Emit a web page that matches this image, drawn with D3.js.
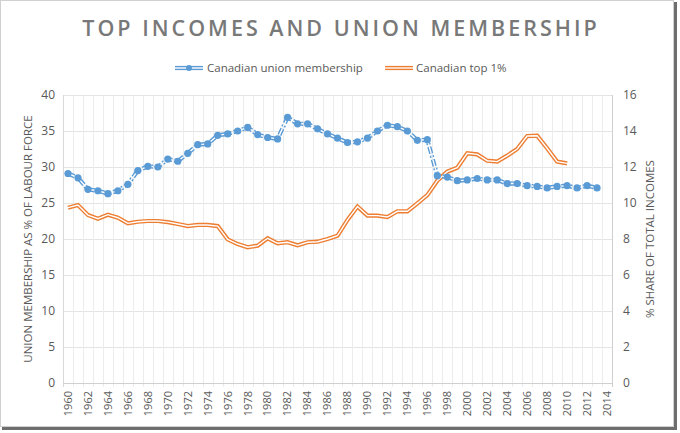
<!DOCTYPE html>
<html>
<head>
<meta charset="utf-8">
<script src="https://cdn.jsdelivr.net/npm/d3@7"></script>
<style>
  body { margin: 0; background: #fff; }
  svg { display: block; }
</style>
</head>
<body>
<div id="chart"></div>
<script>
const W = 680, H = 433;
const marginLeft = 63, marginRight = 68, marginTop = 95, marginBottom = 50;

// data
const years = d3.range(1960, 2015).map(String);
const xTicks = years.filter((d, i) => i % 2 === 0);
const unionYears = d3.range(1960, 2014).map(String);
const unionValues = [29.1, 28.5, 26.9, 26.7, 26.3, 26.7, 27.6, 29.5, 30.1, 30.0,
  31.1, 30.8, 31.9, 33.1, 33.2, 34.4, 34.6, 35.0, 35.5, 34.5,
  34.1, 33.9, 36.9, 36.0, 36.0, 35.3, 34.6, 34.0, 33.4, 33.5,
  34.0, 35.0, 35.8, 35.6, 35.0, 33.7, 33.8, 28.8, 28.6, 28.1,
  28.2, 28.4, 28.2, 28.2, 27.7, 27.7, 27.4, 27.3, 27.1, 27.3,
  27.4, 27.1, 27.4, 27.1];
const topYears = d3.range(1960, 2011).map(String);
const topValues = [9.74, 9.89, 9.33, 9.13, 9.35, 9.18, 8.87, 8.96, 9.0, 9.0,
  8.94, 8.83, 8.72, 8.78, 8.78, 8.72, 7.98, 7.72, 7.54, 7.63,
  8.04, 7.76, 7.82, 7.65, 7.82, 7.85, 8.0, 8.18, 9.06, 9.8,
  9.3, 9.3, 9.22, 9.54, 9.54, 9.98, 10.44, 11.24, 11.74, 11.96,
  12.76, 12.7, 12.35, 12.3, 12.63, 13.0, 13.72, 13.74, 13.04, 12.3,
  12.2];
const leftTicks = d3.range(0, 41, 5);
const rightTicks = d3.range(0, 17, 2);

const blue = "#5b9bd5", orange = "#ed7d31", textColor = "#595959";
const font = "'Open Sans', sans-serif";

const svg = d3.select("#chart").append("svg")
    .attr("width", W)
    .attr("height", H);

// frame with shadow
svg.append("rect").attr("x", 0).attr("y", 0).attr("width", W).attr("height", H).attr("fill", "#fff");
svg.append("rect").attr("x", 674).attr("y", 2).attr("width", 3).attr("height", 428).attr("fill", "#6e6e6e");
svg.append("rect").attr("x", 2).attr("y", 427).attr("width", 675).attr("height", 3).attr("fill", "#6e6e6e");
svg.append("rect").attr("x", 0.5).attr("y", 0.5).attr("width", 673).attr("height", 426)
    .attr("fill", "none").attr("stroke", "#d0d0d0");

const x = d3.scaleBand()
    .domain(years)
    .range([marginLeft, W - marginRight]);
const cx = d => x(d) + x.bandwidth() / 2;

const yLeft = d3.scaleLinear().domain([0, 40]).range([H - marginBottom, marginTop]);
const yRight = d3.scaleLinear().domain([0, 16]).range([H - marginBottom, marginTop]);

// gridlines
svg.append("g")
    .selectAll("line")
    .data(leftTicks)
    .join("line")
    .attr("x1", marginLeft).attr("x2", W - marginRight)
    .attr("y1", d => Math.round(yLeft(d)) + 0.5).attr("y2", d => Math.round(yLeft(d)) + 0.5)
    .attr("stroke", "#e4e4e4");

svg.append("g")
    .selectAll("line")
    .data(years.slice(1))
    .join("line")
    .attr("x1", d => Math.round(x(d)) + 0.5).attr("x2", d => Math.round(x(d)) + 0.5)
    .attr("y1", marginTop).attr("y2", H - marginBottom + 4)
    .attr("stroke", "#ececec");

// axis lines
svg.append("line")
    .attr("x1", marginLeft + 0.5).attr("x2", marginLeft + 0.5)
    .attr("y1", marginTop).attr("y2", H - marginBottom + 4)
    .attr("stroke", "#d9d9d9");
svg.append("line")
    .attr("x1", W - marginRight + 0.5).attr("x2", W - marginRight + 0.5)
    .attr("y1", marginTop).attr("y2", H - marginBottom + 4)
    .attr("stroke", "#d0d0d0");
svg.append("line")
    .attr("x1", marginLeft).attr("x2", W - marginRight)
    .attr("y1", H - marginBottom + 0.5).attr("y2", H - marginBottom + 0.5)
    .attr("stroke", "#d0d0d0");

// left axis
const gLeft = svg.append("g")
    .attr("transform", `translate(${marginLeft - 8},0)`)
    .call(d3.axisLeft(yLeft).tickValues(leftTicks).tickSize(0).tickPadding(0));
gLeft.select(".domain").remove();
gLeft.selectAll("text").style("font-family", font).style("font-size", "12px").attr("fill", textColor);

// right axis
const gRight = svg.append("g")
    .attr("transform", `translate(${W - marginRight + 11},0)`)
    .call(d3.axisRight(yRight).tickValues(rightTicks).tickSize(0).tickPadding(0));
gRight.select(".domain").remove();
gRight.selectAll("text").style("font-family", font).style("font-size", "12px").attr("fill", textColor);

// x axis
const gX = svg.append("g")
    .attr("transform", `translate(0,${H - marginBottom})`)
    .call(d3.axisBottom(x).tickValues(xTicks).tickSize(0).tickPadding(0));
gX.select(".domain").remove();
gX.selectAll("text")
    .attr("transform", "rotate(-90)")
    .attr("x", -8).attr("y", 0).attr("dy", "0.35em")
    .style("text-anchor", "end")
    .style("font-family", font).style("font-size", "11px")
    .attr("fill", textColor);

// axis titles
svg.append("text")
    .attr("transform", `translate(32,${(marginTop + H - marginBottom) / 2}) rotate(-90)`)
    .style("text-anchor", "middle")
    .style("font-family", font).style("font-size", "11.5px")
    .attr("fill", textColor)
    .text("UNION MEMBERSHIP AS % OF LABOUR FORCE");

svg.append("text")
    .attr("transform", `translate(654,${(marginTop + H - marginBottom) / 2}) rotate(-90)`)
    .style("text-anchor", "middle")
    .style("font-family", font).style("font-size", "11.5px")
    .attr("fill", textColor)
    .text("% SHARE OF TOTAL INCOMES");

// title
svg.append("text")
    .attr("x", 341).attr("y", 36)
    .style("text-anchor", "middle")
    .style("font-family", font).style("font-size", "21.5px").style("font-weight", "600")
    .style("letter-spacing", "3px")
    .attr("fill", "#787878")
    .text("TOP INCOMES AND UNION MEMBERSHIP");

// series
const lineLeft = d3.line().x(d => cx(d[0])).y(d => yLeft(d[1]));
const lineRight = d3.line().x(d => cx(d[0])).y(d => yRight(d[1]));
const unionData = d3.zip(unionYears, unionValues);
const topData = d3.zip(topYears, topValues);

function doubleLine(g, path, color, dash) {
    g.append("path").attr("d", path).attr("fill", "none")
        .attr("stroke", color).attr("stroke-width", 4.2)
        .attr("stroke-dasharray", dash || null);
    g.append("path").attr("d", path).attr("fill", "none")
        .attr("stroke", "#fff").attr("stroke-width", 1.4)
        .attr("stroke-dasharray", dash || null);
}

const gTop = svg.append("g");
doubleLine(gTop, lineRight(topData), orange);

const gUnion = svg.append("g");
doubleLine(gUnion, lineLeft(unionData), blue, "7,2,2,2");
gUnion.selectAll("circle")
    .data(unionData)
    .join("circle")
    .attr("cx", d => cx(d[0]))
    .attr("cy", d => yLeft(d[1]))
    .attr("r", 3.6)
    .attr("fill", blue);

// legend
const legend = svg.append("g").attr("transform", "translate(0,68)");
const lg1 = legend.append("g");
doubleLine(lg1, "M175,0H203", blue);
lg1.append("circle").attr("cx", 189).attr("cy", 0).attr("r", 3).attr("fill", blue);
lg1.append("text").attr("x", 207).attr("y", 0).attr("dy", "0.35em")
    .style("font-family", font).style("font-size", "11.5px").attr("fill", textColor)
    .text("Canadian union membership");
const lg2 = legend.append("g");
doubleLine(lg2, "M385,0H413", orange);
lg2.append("text").attr("x", 416).attr("y", 0).attr("dy", "0.35em")
    .style("font-family", font).style("font-size", "11.5px").attr("fill", textColor)
    .text("Canadian top 1%");
</script>
</body>
</html>
